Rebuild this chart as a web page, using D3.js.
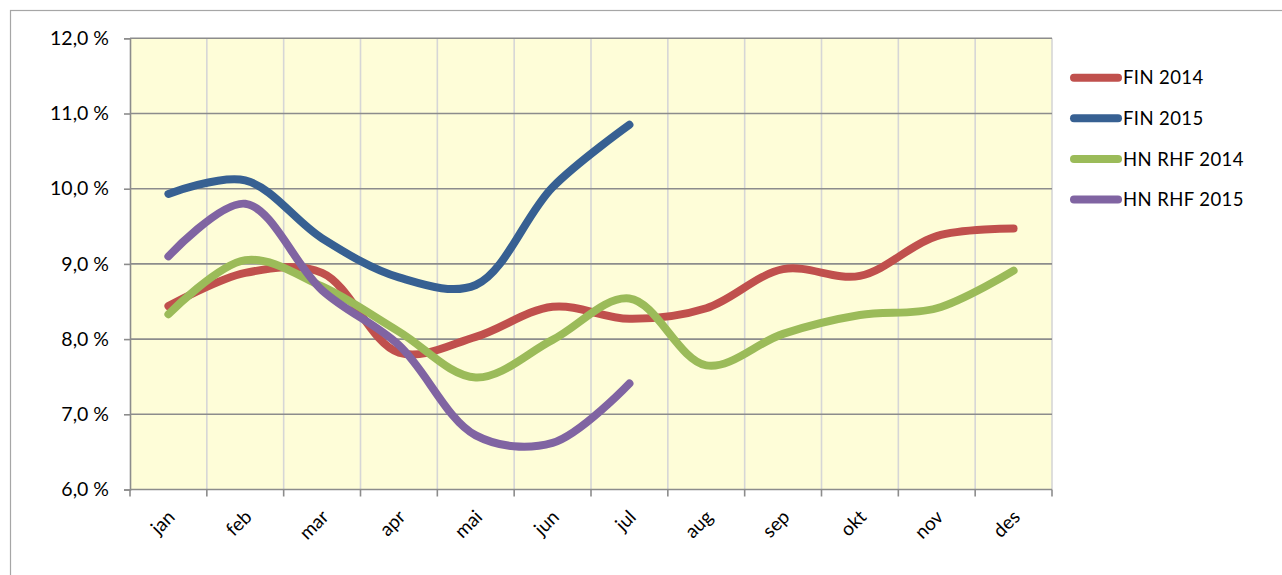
<!DOCTYPE html>
<html><head><meta charset="utf-8">
<script src="https://cdn.jsdelivr.net/npm/d3@7"></script>
<style>
html,body{margin:0;padding:0;background:#fff;}
svg{display:block;}
text{font-family:Lato,"Open Sans",sans-serif;fill:#000;}
</style></head>
<body><svg id="c" width="1282" height="575"></svg>
<script>
const months = ["jan","feb","mar","apr","mai","jun","jul","aug","sep","okt","nov","des"];
const yTicks = [6,7,8,9,10,11,12];
const seriesNames = ["FIN 2014","FIN 2015","HN RHF 2014","HN RHF 2015"];
const fin2014 = [8.44,8.88,8.88,7.82,8.03,8.43,8.27,8.41,8.93,8.84,9.37,9.47];
const fin2015 = [9.93,10.11,9.34,8.82,8.72,10.02,10.85];
const hn2014  = [8.33,9.05,8.70,8.10,7.49,7.99,8.54,7.65,8.07,8.32,8.41,8.91];
const hn2015  = [9.10,9.80,8.65,7.92,6.72,6.62,7.41];
const colors = ["#C0504D","#376092","#9BBB59","#8064A2"];

const allSeries = [fin2014, fin2015, hn2014, hn2015];
const svg = d3.select("#c");
const L=130, R=1052, T=38.3, B=489.5;

svg.append("rect").attr("x",10.5).attr("y",10.5).attr("width",1300).attr("height",600)
  .attr("fill","#fff").attr("stroke","#A6A6A6").attr("stroke-width",1.2);

const x = d3.scaleBand().domain(months).range([L,R]).paddingInner(0).paddingOuter(0);
const y = d3.scaleLinear().domain([6,12]).range([B,T]);

svg.append("rect").attr("x",L).attr("y",T).attr("width",R-L).attr("height",B-T).attr("fill","#FEFDD8");

// vertical gridlines at category boundaries
const bounds = months.map(m=>x(m)).concat([R]);
svg.append("g").selectAll("line").data(bounds.slice(1)).join("line")
  .attr("x1",d=>d).attr("x2",d=>d).attr("y1",T).attr("y2",B)
  .attr("stroke","#D6D6D6").attr("stroke-width",1.6);

// horizontal gridlines
svg.append("g").selectAll("line").data(yTicks.slice(1)).join("line")
  .attr("x1",L).attr("x2",R).attr("y1",d=>y(d)).attr("y2",d=>y(d))
  .attr("stroke","#8C8C8C").attr("stroke-width",1.6);

// y axis
const yAxis = d3.axisLeft(y).tickValues(yTicks).tickSize(6).tickPadding(15)
  .tickFormat(d=>d3.format(".1f")(d).replace(".",",")+" %");
const ya = svg.append("g").attr("transform",`translate(${L},0)`).call(yAxis);
ya.select(".domain").attr("stroke","#8C8C8C").attr("stroke-width",1.6);
ya.selectAll(".tick line").attr("stroke","#8C8C8C").attr("stroke-width",1.6);
ya.selectAll("text").attr("font-size",19.5).attr("fill","#000").attr("font-family","Lato");

// x axis
const xa = svg.append("g").attr("transform",`translate(0,${B})`);
xa.append("line").attr("x1",L).attr("x2",R).attr("y1",0).attr("y2",0)
  .attr("stroke","#8C8C8C").attr("stroke-width",1.6);
xa.selectAll("line.tk").data(bounds).join("line").attr("class","tk")
  .attr("x1",d=>d).attr("x2",d=>d).attr("y1",0).attr("y2",7)
  .attr("stroke","#8C8C8C").attr("stroke-width",1.6);
xa.selectAll("text").data(months).join("text")
  .attr("transform",d=>`translate(${x(d)+x.bandwidth()/2+3},${24}) rotate(-45)`)
  .attr("text-anchor","end").attr("dy","0.35em").attr("font-size",19).text(d=>d);

// lines
const xc = m => x(m)+x.bandwidth()/2;
const line = d3.line().x((d,i)=>xc(months[i])).y(d=>y(d)).curve(d3.curveCatmullRom.alpha(0.5));
svg.append("g").selectAll("path").data(allSeries).join("path")
  .attr("d",d=>line(d)).attr("fill","none")
  .attr("stroke",(d,i)=>colors[i]).attr("stroke-width",8)
  .attr("stroke-linecap","round").attr("stroke-linejoin","round");

// legend
const lg = svg.append("g");
seriesNames.forEach((n,i)=>{
  const yy = 77.7 + i*40.6;
  lg.append("line").attr("x1",1074).attr("x2",1118).attr("y1",yy).attr("y2",yy)
    .attr("stroke",colors[i]).attr("stroke-width",8).attr("stroke-linecap","round");
  lg.append("text").attr("x",1123).attr("y",yy).attr("dy","0.36em")
    .attr("font-size",18.5).attr("letter-spacing",0.4).text(n);
});
</script></body></html>
